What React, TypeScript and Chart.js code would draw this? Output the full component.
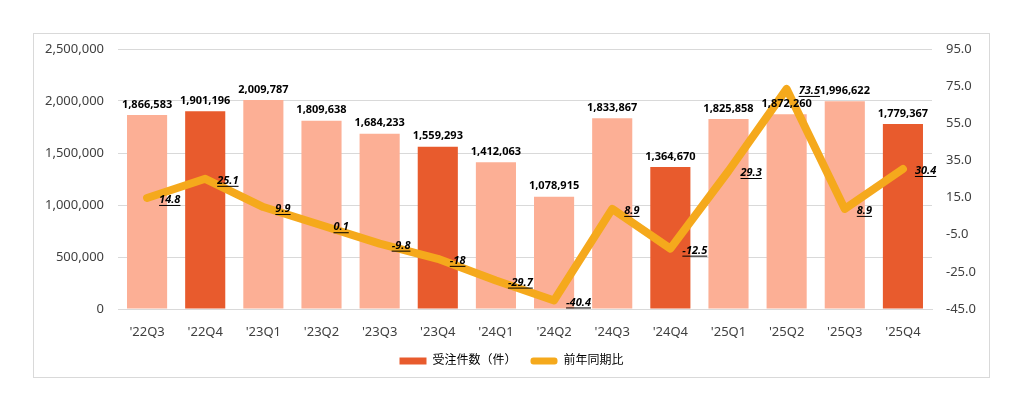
import React, { useEffect, useRef } from "react";
import { Chart, registerables } from "chart.js";

Chart.register(...registerables);

const quarters = ["'22Q3", "'22Q4", "'23Q1", "'23Q2", "'23Q3", "'23Q4", "'24Q1", "'24Q2", "'24Q3", "'24Q4", "'25Q1", "'25Q2", "'25Q3", "'25Q4"];
const orders = [1866583, 1901196, 2009787, 1809638, 1684233, 1559293, 1412063, 1078915, 1833867, 1364670, 1825858, 1872260, 1996622, 1779367];
const yoy = [14.8, 25.1, 9.9, 0.1, -9.8, -18, -29.7, -40.4, 8.9, -12.5, 29.3, 73.5, 8.9, 30.4];
const yoyLabels = ["14.8", "25.1", "9.9", "0.1", "-9.8", "-18", "-29.7", "-40.4", "8.9", "-12.5", "29.3", "73.5", "8.9", "30.4"];

const DARK = "#E85B2D";
const LIGHT = "#FCAF95";
const LINE = "#F5A91C";
const FONT = "'Noto Sans', 'Noto Sans CJK JP', sans-serif";

// bar values above bars, yoy values to the right of the line points
const labelPlugin = {
  id: "valueLabels",
  afterDatasetsDraw(chart: any) {
    const ctx = chart.ctx;
    ctx.save();
    const barMeta = chart.getDatasetMeta(0);
    ctx.font = `bold 11px ${FONT}`;
    ctx.fillStyle = "#000";
    ctx.textAlign = "center";
    ctx.textBaseline = "bottom";
    barMeta.data.forEach((el: any, i: number) => {
      ctx.fillText(orders[i].toLocaleString("en-US"), el.x, el.y - 5);
    });
    const lineMeta = chart.getDatasetMeta(1);
    ctx.font = `italic bold 11px ${FONT}`;
    ctx.textAlign = "left";
    ctx.textBaseline = "middle";
    ctx.strokeStyle = "#000";
    ctx.lineWidth = 1;
    lineMeta.data.forEach((el: any, i: number) => {
      const tx = el.x + 12;
      const ty = el.y + 2;
      ctx.fillText(yoyLabels[i], tx, ty);
      const w = ctx.measureText(yoyLabels[i]).width;
      ctx.beginPath();
      ctx.moveTo(tx, ty + 5.5);
      ctx.lineTo(tx + w, ty + 5.5);
      ctx.stroke();
    });
    ctx.restore();
  },
};

// fixed axis widths; drop the extra top/bottom padding that tick padding adds
const fixY = (w: number) => (s: any) => {
  s.width = w;
  s.paddingTop = 8;
  s.paddingBottom = 8;
};

export default function App() {
  const canvasRef = useRef<HTMLCanvasElement | null>(null);
  const chartRef = useRef<Chart | null>(null);

  useEffect(() => {
    if (!canvasRef.current) return;
    if (chartRef.current) chartRef.current.destroy();

    chartRef.current = new Chart(canvasRef.current, {
      type: "bar",
      data: {
        labels: quarters,
        datasets: [
          {
            type: "bar",
            label: "受注件数（件）",
            data: orders,
            backgroundColor: quarters.map((q) => (q.endsWith("Q4") ? DARK : LIGHT)),
            yAxisID: "y",
            order: 1,
            categoryPercentage: 1,
            barPercentage: 0.69,
          },
          {
            type: "line",
            label: "前年同期比",
            data: yoy,
            borderColor: LINE,
            backgroundColor: LINE,
            borderWidth: 8,
            borderJoinStyle: "round",
            borderCapStyle: "round",
            pointRadius: 0,
            tension: 0,
            yAxisID: "y1",
            order: 0,
          },
        ] as any,
      },
      options: {
        animation: false,
        responsive: true,
        maintainAspectRatio: false,
        layout: { padding: { top: 15, bottom: 0, left: 0, right: 0 } },
        plugins: {
          tooltip: { enabled: false },
          legend: {
            position: "bottom",
            labels: {
              font: { family: FONT, size: 12 },
              color: "#595959",
              boxWidth: 27,
              boxHeight: 7,
              padding: 14,
              sort: (a: any, b: any) => a.datasetIndex - b.datasetIndex,
              generateLabels: (chart: any) => [
                { text: "受注件数（件）", fillStyle: DARK, strokeStyle: DARK, lineWidth: 0, datasetIndex: 0 },
                { text: "前年同期比", fillStyle: LINE, strokeStyle: LINE, lineWidth: 0, datasetIndex: 1, borderRadius: 3 },
              ],
            },
          },
        },
        scales: {
          x: {
            grid: { display: false },
            border: { color: "#d9d9d9" },
            ticks: { font: { family: FONT, size: 13 }, color: "#404040", padding: 7, maxRotation: 0 },
            afterFit: (s: any) => {
              s.height = 32;
            },
          },
          y: {
            position: "left",
            min: 0,
            max: 2500000,
            ticks: {
              stepSize: 500000,
              font: { family: FONT, size: 13 },
              color: "#404040",
              padding: 14,
              callback: (v: any) => Number(v).toLocaleString("en-US"),
            },
            grid: { color: "#d9d9d9", drawTicks: false },
            border: { display: false },
            afterFit: fixY(84),
          },
          y1: {
            position: "right",
            min: -45,
            max: 95,
            ticks: {
              stepSize: 20,
              font: { family: FONT, size: 13 },
              color: "#404040",
              padding: 14,
              callback: (v: any) => Number(v).toFixed(1),
            },
            grid: { display: false, drawTicks: false },
            border: { display: false },
            afterFit: fixY(57),
          },
        },
      },
      plugins: [labelPlugin],
    });

    return () => {
      chartRef.current?.destroy();
      chartRef.current = null;
    };
  }, []);

  return (
    <div style={{ paddingTop: 25, paddingLeft: 25 }}>
      <div
        style={{
          width: 957,
          height: 345,
          border: "1px solid #d9d9d9",
          boxSizing: "border-box",
          background: "#fff",
        }}
      >
        <div style={{ position: "relative", width: 955, height: 343 }}>
          <canvas ref={canvasRef}></canvas>
        </div>
      </div>
    </div>
  );
}
